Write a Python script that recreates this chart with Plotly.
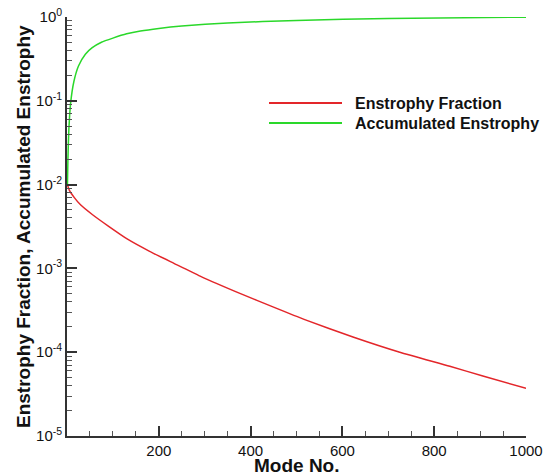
import plotly.graph_objects as go

# Mode numbers and enstrophy fraction of each mode
frac_modes = [1, 5, 16, 30, 55, 90, 131, 180, 233, 290, 378, 450, 518, 623, 725, 834, 906, 1000]
frac_values = [1.0e-2, 8.6e-3, 7.0e-3, 5.7e-3, 4.4e-3, 3.2e-3, 2.25e-3, 1.6e-3, 1.15e-3,
               8.1e-4, 5.0e-4, 3.45e-4, 2.45e-4, 1.52e-4, 1.0e-4, 6.8e-5, 5.2e-5, 3.7e-5]

# Mode numbers and accumulated enstrophy
acc_modes = [1, 2, 4, 8, 15, 25, 40, 55, 75, 100, 130, 160, 200, 250, 350, 500, 700, 1000]
acc_values = [0.01, 0.02, 0.045, 0.095, 0.17, 0.26, 0.36, 0.43, 0.50, 0.56, 0.63,
              0.68, 0.73, 0.78, 0.85, 0.91, 0.96, 0.995]

series_names = ["Enstrophy Fraction", "Accumulated Enstrophy"]
series_colors = ["#e3262a", "#2ad82a"]

x_title = "Mode No."
y_title = "Enstrophy Fraction, Accumulated Enstrophy"
x_tickvals = [200, 400, 600, 800, 1000]
y_exponents = [-5, -4, -3, -2, -1, 0]
y_tickvals = [10.0 ** e for e in y_exponents]
y_ticktext = ["10<sup>%d</sup>" % e for e in y_exponents]

W, H = 551, 475
ML, MR, MT, MB = 67, 25, 17, 39
FONT = "Liberation Sans, Arial, sans-serif"

fig = go.Figure()
for xs, ys, name, col in [(frac_modes, frac_values, series_names[0], series_colors[0]),
                          (acc_modes, acc_values, series_names[1], series_colors[1])]:
    fig.add_trace(go.Scatter(x=xs, y=ys, mode="lines", name=name,
                             line=dict(color=col, width=1.5, shape="spline", smoothing=0.5),
                             showlegend=False))

# Paper coordinates from pixel positions in the figure
pw, ph = W - ML - MR, H - MT - MB
def px_x(p):
    return (p - ML) / pw
def px_y(p):
    return (H - MB - p) / ph

# Legend drawn as line samples with labels
for i, (name, col) in enumerate(zip(series_names, series_colors)):
    yp = 103 + 20 * i
    fig.add_shape(type="line", xref="paper", yref="paper",
                  x0=px_x(269), x1=px_x(342), y0=px_y(yp), y1=px_y(yp),
                  line=dict(color=col, width=2))
    fig.add_annotation(xref="paper", yref="paper", x=px_x(353), y=px_y(yp),
                       xanchor="left", yanchor="middle", text="<b>%s</b>" % name,
                       showarrow=False, font=dict(family=FONT, size=16, color="#111"))

# Axis titles
fig.add_annotation(xref="paper", yref="paper", x=px_x(297), y=px_y(465),
                   xanchor="center", yanchor="middle", text="<b>%s</b>" % x_title,
                   showarrow=False, font=dict(family=FONT, size=19, color="#111"))
fig.add_annotation(xref="paper", yref="paper", x=px_x(23), y=px_y(227),
                   xanchor="center", yanchor="middle", text="<b>%s</b>" % y_title,
                   textangle=-90, showarrow=False,
                   font=dict(family=FONT, size=19, color="#111"))

fig.update_layout(
    width=W, height=H,
    margin=dict(l=ML, r=MR, t=MT, b=MB),
    paper_bgcolor="white", plot_bgcolor="white",
    font=dict(family=FONT, size=15, color="#111"),
    xaxis=dict(
        range=[0, 1000], tickvals=x_tickvals, ticks="inside", ticklen=10,
        tickwidth=1.5, tickcolor="#333", showline=True, linecolor="#333",
        linewidth=1.8, showgrid=False, zeroline=False, automargin=False,
        minor=dict(ticks="inside", ticklen=5, tickwidth=1, tickcolor="#555",
                   tick0=0, dtick=50, showgrid=False),
    ),
    yaxis=dict(
        type="log", range=[-5, 0], tickvals=y_tickvals, ticktext=y_ticktext,
        ticks="inside", ticklen=10, tickwidth=1.5, tickcolor="#333",
        showline=True, linecolor="#333", linewidth=1.8, showgrid=False,
        zeroline=False, automargin=False,
        minor=dict(ticks="inside", ticklen=5, tickwidth=1, tickcolor="#555",
                   dtick="D1", showgrid=False),
    ),
)

fig.write_html("out.html")
